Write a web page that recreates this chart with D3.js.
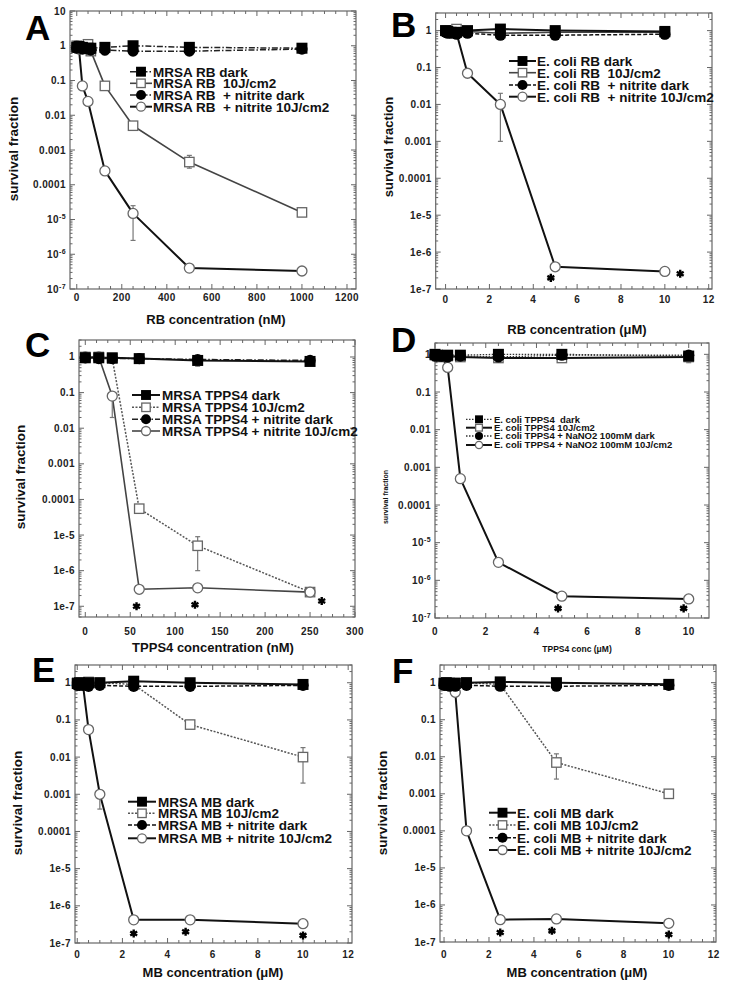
<!DOCTYPE html>
<html><head><meta charset="utf-8">
<script src="https://cdn.jsdelivr.net/npm/d3@7"></script>
<style>
body{margin:0;background:#fff;}
svg{display:block;font-family:"Liberation Sans",Arial,Helvetica,sans-serif;font-weight:bold;}
text{white-space:pre;}
</style></head><body>
<svg id="chart" width="729" height="987"></svg>
<script>
// ---------------- DATA ----------------
// Panel A (MRSA, Rose Bengal, nM)
const xA        = [0, 10, 25, 50, 62.5, 125, 250, 500, 1000];
const darkA     = [0.9, 0.95, 0.9, 0.85, 0.85, 0.9, 1.0, 0.9, 0.85];
const lightA    = [1.0, 0.9, 0.95, 1.1, 0.7, 0.07, 0.005, 0.00045, 1.6e-5];
const nitDarkA  = [0.85, 0.9, 0.8, 0.8, 0.75, 0.75, 0.7, 0.7, 0.8];
const nitLightA = [1.0, 0.8, 0.07, 0.025, null, 2.5e-4, 1.5e-5, 4e-7, 3.3e-7];
const errA      = [["nitLight", 250, 2.5e-6, 2.5e-5], ["light", 500, 3e-4, 7e-4], ["dark", 125, 0.55, 1.1], ["light", 1000, 1.3e-5, 2e-5]];
const starsA    = [];
const legendA   = ["MRSA RB dark", "MRSA RB  10J/cm2", "MRSA RB  + nitrite dark", "MRSA RB  + nitrite 10J/cm2"];

// Panel B (E. coli, Rose Bengal, µM)
const xB        = [0, 0.1, 0.25, 0.5, 1, 2.5, 5, 10];
const darkB     = [1.0, 0.95, 0.9, 0.9, 1.0, 1.1, 1.0, 0.95];
const lightB    = [1.0, 1.0, 0.95, 1.1, 0.95, 0.85, 0.9, 0.9];
const nitDarkB  = [0.9, 0.85, 0.85, 0.8, 0.85, 0.75, 0.75, 0.8];
const nitLightB = [1.0, 0.95, 0.9, 0.85, 0.07, 0.01, 4e-7, 3e-7];
const errB      = [["nitLight", 2.5, 0.001, 0.02], ["dark", 10, 0.6, 1.1]];
const starsB    = [[4.8, 2e-7], [10.7, 2.6e-7]];
const legendB   = ["E. coli RB dark", "E. coli RB  10J/cm2", "E. coli RB  + nitrite dark", "E. coli RB  + nitrite 10J/cm2"];

// Panel C (MRSA, TPPS4, nM)
const xC        = [0, 15, 30, 60, 125, 250];
const darkC     = [0.95, 0.95, 0.95, 0.9, 0.8, 0.75];
const lightC    = [1.0, 1.0, 0.9, 5.5e-5, 5e-6, 2.5e-7];
const nitDarkC  = [0.95, 0.9, 0.9, 0.9, 0.85, 0.8];
const nitLightC = [1.0, 1.0, 0.08, 3e-7, 3.3e-7, 2.5e-7];
const errC      = [["nitLight", 30, 0.02, 0.1], ["light", 125, 1e-6, 9e-6], ["dark", 125, 0.55, 1.0]];
const starsC    = [[57, 1e-7], [122, 1.1e-7], [263, 1.4e-7]];
const legendC   = ["MRSA TPPS4 dark", "MRSA TPPS4 10J/cm2", "MRSA TPPS4 + nitrite dark", "MRSA TPPS4 + nitrite 10J/cm2"];

// Panel D (E. coli, TPPS4, µM)
const xD        = [0, 0.1, 0.25, 0.5, 1, 2.5, 5, 10];
const darkD     = [1.0, 0.95, 0.9, 0.95, 0.95, 1.0, 1.0, 0.9];
const lightD    = [0.95, 0.9, 0.85, 0.9, 0.85, 0.8, 0.8, 0.85];
const nitDarkD  = [0.9, 0.95, 0.9, 0.85, 0.9, 0.85, 0.95, 0.95];
const nitLightD = [1.0, 0.9, 0.9, 0.45, 5e-4, 3e-6, 3.8e-7, 3.2e-7];
const errD      = [["dark", 10, 0.6, 1.1], ["dark", 2.5, 0.65, 1.1]];
const starsD    = [[4.85, 1.8e-7], [9.8, 1.8e-7]];
const legendD   = ["E. coli TPPS4  dark", "E. coli TPPS4 10J/cm2", "E. coli TPPS4 + NaNO2 100mM dark", "E. coli TPPS4 + NaNO2 100mM 10J/cm2"];

// Panel E (MRSA, Methylene blue, µM)
const xE        = [0, 0.1, 0.25, 0.5, 1, 2.5, 5, 10];
const darkE     = [0.95, 1.0, 0.95, 1.0, 1.0, 1.1, 1.0, 0.9];
const lightE    = [1.0, 0.95, 1.0, 1.05, 1.0, 0.9, 0.075, 0.01];
const nitDarkE  = [0.85, 0.85, 0.85, 0.8, 0.85, 0.8, 0.8, 0.85];
const nitLightE = [1.0, 0.95, 0.9, 0.055, 0.001, 4.2e-7, 4.2e-7, 3.3e-7];
const errE      = [["light", 10, 0.002, 0.018], ["nitLight", 1, 4e-4, 0.0013]];
const starsE    = [[2.5, 1.8e-7], [4.8, 2e-7], [10, 1.6e-7]];
const legendE   = ["MRSA MB dark", "MRSA MB 10J/cm2", "MRSA MB + nitrite dark", "MRSA MB + nitrite 10J/cm2"];

// Panel F (E. coli, Methylene blue, µM)
const xF        = [0, 0.1, 0.25, 0.5, 1, 2.5, 5, 10];
const darkF     = [0.95, 1.0, 0.95, 0.95, 1.0, 1.05, 1.0, 0.9];
const lightF    = [1.0, 0.95, 1.0, 1.0, 1.0, 0.9, 0.007, 0.001];
const nitDarkF  = [0.85, 0.85, 0.8, 0.8, 0.85, 0.8, 0.8, 0.85];
const nitLightF = [1.0, 0.95, 0.9, 0.55, 1e-4, 4e-7, 4.2e-7, 3.2e-7];
const errF      = [["light", 5, 0.0025, 0.012], ["dark", 10, 0.65, 1.05]];
const starsF    = [[2.5, 1.8e-7], [4.8, 2e-7], [10, 1.6e-7]];
const legendF   = ["E. coli MB dark", "E. coli MB 10J/cm2", "E. coli MB + nitrite dark", "E. coli MB + nitrite 10J/cm2"];

// Tick labels
const yTicksSup   = [10, 1, 0.1, 0.01, 0.001, 0.0001, 1e-5, 1e-6, 1e-7];
const yLabelsSup  = ["10", "1", "0.1", "0.01", "0.001", "0.0001", "10^-5", "10^-6", "10^-7"];
const yTicksE     = [1, 0.1, 0.01, 0.001, 0.0001, 1e-5, 1e-6, 1e-7];
const yLabelsE    = ["1", "0.1", "0.01", "0.001", "0.0001", "1e-5", "1e-6", "1e-7"];
const xTicksA = [0, 200, 400, 600, 800, 1000, 1200];
const xTicksC = [0, 50, 100, 150, 200, 250, 300];
const xTicksM = [0, 2, 4, 6, 8, 10, 12];
const xTicksD = [0, 2, 4, 6, 8, 10];

const xTitles = ["RB concentration (nM)", "RB concentration (\u03bcM)", "TPPS4 concentration (nM)", "TPPS4 conc (\u03bcM)", "MB concentration (\u03bcM)", "MB concentration (\u03bcM)"];
const letters = ["A", "B", "C", "D", "E", "F"];

// ---------------- LAYOUT ----------------
const panels = [
  {x: xA, s: {dark: darkA, light: lightA, nitDark: nitDarkA, nitLight: nitLightA}, err: errA, stars: starsA, legend: legendA,
   f: {x0: 70, x1: 356, y0: 11, y1: 289}, xd: [-30, 1240], yd: [1e-7, 10], xt: xTicksA, xminor: 50,
   yt: yTicksSup, yl: yLabelsSup, lx: 25, ly: 40, ytx: 13, yty: 149, ytfs: 13.5, xtx: 216, xty: 324, xtfs: 13,
   lg: {x0: 130, len: 22, tx: 153, y: [71.7, 83.3, 95, 106.7], fs: 13.5}, xlDy: 12,
   st: {dark: "dashdot", light: "solidgrey", nitDark: "dashdot", nitLight: "solid"}},
  {x: xB, s: {dark: darkB, light: lightB, nitDark: nitDarkB, nitLight: nitLightB}, err: errB, stars: starsB, legend: legendB,
   f: {x0: 435.7, x1: 712, y0: 13, y1: 289}, xd: [-0.45, 12.15], yd: [1e-7, 3], xt: xTicksM, xminor: 0.5,
   yt: yTicksE, yl: yLabelsE, lx: 391, ly: 37, ytx: 388, yty: 147, ytfs: 13, xtx: 577, xty: 334, xtfs: 13,
   lg: {x0: 509, len: 27, tx: 537, y: [61, 72.7, 85, 96.7], fs: 13.5}, xlDy: 14,
   st: {dark: "solid", light: "solidgrey", nitDark: "dashed", nitLight: "solid"}},
  {x: xC, s: {dark: darkC, light: lightC, nitDark: nitDarkC, nitLight: nitLightC}, err: errC, stars: starsC, legend: legendC,
   f: {x0: 79, x1: 355, y0: 340, y1: 617}, xd: [-7, 300], yd: [5e-8, 3], xt: xTicksC, xminor: 12.5,
   yt: yTicksE, yl: yLabelsE, lx: 25, ly: 357, ytx: 20, yty: 477, ytfs: 13.5, xtx: 213, xty: 652, xtfs: 13,
   lg: {x0: 132, len: 28, tx: 162, y: [395, 407.3, 419.3, 431], fs: 13.5}, xlDy: 18,
   st: {dark: "solid", light: "dotgrey", nitDark: "dashdot", nitLight: "solidgrey"}},
  {x: xD, s: {dark: darkD, light: lightD, nitDark: nitDarkD, nitLight: nitLightD}, err: errD, stars: starsD, legend: legendD,
   f: {x0: 435, x1: 709, y0: 343, y1: 618}, xd: [0, 10.8], yd: [1e-7, 2], xt: xTicksD, xminor: 0.5,
   yt: yTicksSup.slice(1), yl: yLabelsSup.slice(1), lx: 391, ly: 352, ytx: 385, yty: 497, ytfs: 7, xtx: 577, xty: 652, xtfs: 8.5,
   lg: {x0: 466, len: 26, tx: 494, y: [419.3, 427.7, 436, 445], fs: 9.5}, xlDy: 17,
   st: {dark: "dotted", light: "solid", nitDark: "dotted", nitLight: "solid"}},
  {x: xE, s: {dark: darkE, light: lightE, nitDark: nitDarkE, nitLight: nitLightE}, err: errE, stars: starsE, legend: legendE,
   f: {x0: 75, x1: 352, y0: 665, y1: 943}, xd: [-0.1, 12.17], yd: [1e-7, 3], xt: xTicksM, xminor: 0.5,
   yt: yTicksE, yl: yLabelsE, lx: 32, ly: 682, ytx: 17, yty: 803, ytfs: 13.5, xtx: 213, xty: 977, xtfs: 13,
   lg: {x0: 128, len: 28, tx: 158, y: [801.7, 813.3, 825, 838.3], fs: 13.5}, xlDy: 15,
   st: {dark: "solid", light: "dotgrey", nitDark: "dashed", nitLight: "solid"}},
  {x: xF, s: {dark: darkF, light: lightF, nitDark: nitDarkF, nitLight: nitLightF}, err: errF, stars: starsF, legend: legendF,
   f: {x0: 440, x1: 716, y0: 665, y1: 942}, xd: [-0.18, 12.1], yd: [1e-7, 3], xt: xTicksM, xminor: 0.5,
   yt: yTicksE, yl: yLabelsE, lx: 392, ly: 683, ytx: 382, yty: 803, ytfs: 13.5, xtx: 577, xty: 977, xtfs: 13,
   lg: {x0: 489, len: 27, tx: 517, y: [812.7, 825, 837.7, 850], fs: 13.5}, xlDy: 16,
   st: {dark: "solid", light: "dotgrey", nitDark: "dashed", nitLight: "solid"}}
];

const lineStyles = {
  solid:     {stroke: "#111", w: 2,   dash: null},
  solidgrey: {stroke: "#444", w: 1.6, dash: null},
  dotgrey:   {stroke: "#555", w: 1.5, dash: "2,1.5"},
  dashed:    {stroke: "#111", w: 1.5, dash: "4,2"},
  dashdot:   {stroke: "#222", w: 1.5, dash: "6,2,1.5,2"},
  dotted:    {stroke: "#333", w: 1.3, dash: "1.5,1.5"}
};
const seriesOrder = ["light", "nitLight", "nitDark", "dark"];
const legendOrder = ["dark", "light", "nitDark", "nitLight"];

const svg = d3.select("#chart");

function drawMarker(g, key, cx, cy, scale) {
  const k = scale || 1;
  if (key === "dark") {
    g.append("rect").attr("x", cx - 5.5 * k).attr("y", cy - 5.5 * k).attr("width", 11 * k).attr("height", 11 * k).attr("fill", "#000");
  } else if (key === "light") {
    g.append("rect").attr("x", cx - 4.7 * k).attr("y", cy - 4.7 * k).attr("width", 9.4 * k).attr("height", 9.4 * k)
      .attr("fill", "#fff").attr("stroke", "#666").attr("stroke-width", 1.3);
  } else if (key === "nitDark") {
    g.append("circle").attr("cx", cx).attr("cy", cy).attr("r", 5.6 * k).attr("fill", "#000");
  } else {
    g.append("circle").attr("cx", cx).attr("cy", cy).attr("r", 5 * k)
      .attr("fill", "#fff").attr("stroke", "#666").attr("stroke-width", 1.3);
  }
}

function supLabel(sel, lab) {
  if (lab.includes("^")) {
    const [b, e] = lab.split("^");
    sel.append("tspan").text(b);
    sel.append("tspan").attr("font-size", "7px").attr("dy", -4).text(e);
  } else sel.text(lab);
}

panels.forEach((p, pi) => {
  const g = svg.append("g");
  const x = d3.scaleLinear().domain(p.xd).range([p.f.x0, p.f.x1]);
  const y = d3.scaleLog().domain(p.yd).range([p.f.y1, p.f.y0]);

  // frame
  g.append("rect").attr("x", p.f.x0).attr("y", p.f.y0).attr("width", p.f.x1 - p.f.x0).attr("height", p.f.y1 - p.f.y0)
    .attr("fill", "none").attr("stroke", "#666").attr("stroke-width", 1.2);

  const tg = g.append("g").attr("stroke", "#666").attr("stroke-width", 1);
  // x ticks (inward, top and bottom)
  const xminors = d3.range(Math.ceil(p.xd[0] / p.xminor) * p.xminor, p.xd[1] + 1e-9, p.xminor);
  xminors.forEach(v => {
    const major = p.xt.some(t => Math.abs(t - v) < 1e-9);
    const L = major ? 5 : 3;
    tg.append("line").attr("x1", x(v)).attr("x2", x(v)).attr("y1", p.f.y1).attr("y2", p.f.y1 - L);
    tg.append("line").attr("x1", x(v)).attr("x2", x(v)).attr("y1", p.f.y0).attr("y2", p.f.y0 + L);
  });
  // y ticks (log)
  const e0 = Math.floor(Math.log10(p.yd[0])), e1 = Math.ceil(Math.log10(p.yd[1]));
  for (let e = e0; e <= e1; e++) {
    for (let m = 1; m <= 9; m++) {
      const v = m * Math.pow(10, e);
      if (v < p.yd[0] * 0.999 || v > p.yd[1] * 1.001) continue;
      const L = m === 1 ? 5 : 2.5;
      tg.append("line").attr("x1", p.f.x0).attr("x2", p.f.x0 + L).attr("y1", y(v)).attr("y2", y(v));
      tg.append("line").attr("x1", p.f.x1).attr("x2", p.f.x1 - L).attr("y1", y(v)).attr("y2", y(v));
    }
  }

  // tick labels
  const tfs = 10;
  p.xt.forEach(t => {
    g.append("text").attr("x", x(t)).attr("y", p.f.y1 + p.xlDy).attr("text-anchor", "middle")
      .attr("font-size", tfs).attr("fill", "#222").attr("letter-spacing", 0.4).text(t);
  });
  p.yt.forEach((t, i) => {
    const tx = g.append("text").attr("x", p.f.x0 - 4).attr("y", y(t)).attr("dy", "0.35em").attr("text-anchor", "end")
      .attr("font-size", tfs).attr("fill", "#222").attr("letter-spacing", 0.4);
    supLabel(tx, p.yl[i]);
  });

  // axis titles
  g.append("text").attr("transform", `translate(${p.ytx},${p.yty}) rotate(-90)`).attr("text-anchor", "middle")
    .attr("dominant-baseline", "central").attr("font-size", p.ytfs).attr("fill", "#111").text("survival fraction");
  g.append("text").attr("x", p.xtx).attr("y", p.xty).attr("text-anchor", "middle")
    .attr("font-size", p.xtfs).attr("fill", "#111").text(xTitles[pi]);
  // panel letter
  g.append("text").attr("x", p.lx).attr("y", p.ly).attr("font-size", 35).attr("fill", "#000").text(letters[pi]);

  // series lines (missing values are skipped, neighbouring points stay connected)
  const line = d3.line().x(d => x(d[0])).y(d => y(d[1]));
  seriesOrder.forEach(key => {
    const pts = p.x.map((xv, i) => [xv, p.s[key][i]]).filter(d => d[1] != null);
    const ls = lineStyles[p.st[key]];
    g.append("path").datum(pts).attr("d", line).attr("fill", "none").attr("stroke", ls.stroke)
      .attr("stroke-width", ls.w).attr("stroke-dasharray", ls.dash).attr("stroke-linejoin", "round");
  });
  // error bars
  const eg = g.append("g").attr("stroke", "#777").attr("stroke-width", 1.2);
  p.err.forEach(([key, xv, lo, hi]) => {
    eg.append("line").attr("x1", x(xv)).attr("x2", x(xv)).attr("y1", y(lo)).attr("y2", y(hi));
    [lo, hi].forEach(v => eg.append("line").attr("x1", x(xv) - 2.5).attr("x2", x(xv) + 2.5).attr("y1", y(v)).attr("y2", y(v)));
  });
  // markers
  seriesOrder.forEach(key => {
    p.x.forEach((xv, i) => {
      const v = p.s[key][i];
      if (v == null) return;
      drawMarker(g, key, x(xv), y(v));
    });
  });
  // significance stars
  p.stars.forEach(([xv, yv]) => {
    g.append("path").attr("transform", `translate(${x(xv)},${y(yv)})`)
      .attr("d", d3.symbol(d3.symbolAsterisk, 45)()).attr("stroke", "#000").attr("stroke-width", 2.4).attr("fill", "none");
    g.append("circle").attr("cx", x(xv)).attr("cy", y(yv)).attr("r", 2.2).attr("fill", "#000");
  });

  // legend
  const mk = p.lg.fs < 12 ? 0.72 : 0.9;
  legendOrder.forEach((key, i) => {
    const ly = p.lg.y[i];
    const ls = lineStyles[p.st[key]];
    g.append("line").attr("x1", p.lg.x0).attr("x2", p.lg.x0 + p.lg.len).attr("y1", ly).attr("y2", ly)
      .attr("stroke", ls.stroke).attr("stroke-width", ls.w).attr("stroke-dasharray", ls.dash);
    drawMarker(g, key, p.lg.x0 + p.lg.len / 2, ly, mk);
    g.append("text").attr("x", p.lg.tx).attr("y", ly).attr("dy", "0.36em").attr("font-size", p.lg.fs)
      .attr("fill", "#111").text(p.legend[i]);
  });
});
</script>
</body></html>
